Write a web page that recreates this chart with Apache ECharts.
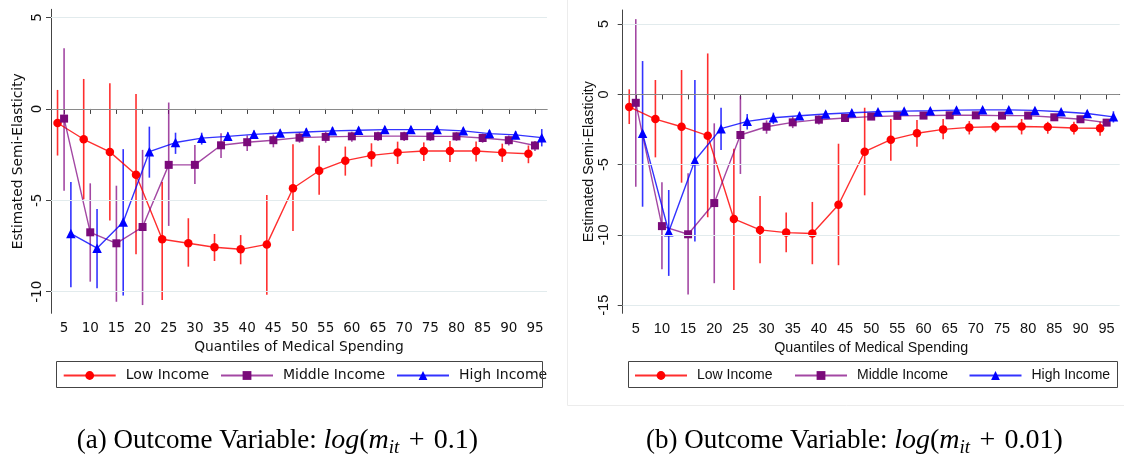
<!DOCTYPE html>
<html>
<head>
<meta charset="utf-8">
<script src="https://cdn.jsdelivr.net/npm/echarts@6/dist/echarts.min.js"></script>
<style>
html,body{margin:0;padding:0;background:#fff;}
#c{width:1124px;height:454px;}
</style>
</head>
<body>
<div id="c"></div>
<script>
// ---------- DATA ----------
const quantiles = [5,10,15,20,25,30,35,40,45,50,55,60,65,70,75,80,85,90,95];
const yTicksA = [-10,-5,0,5];
const yTicksB = [-15,-10,-5,0,5];
const seriesNames = ['Low Income','Middle Income','High Income'];
const captionA = ['(a) Outcome Variable: ', 'log', '(', 'm', 'it', '\u200a + \u200a0.1)'];
const captionB = ['(b) Outcome Variable: ', 'log', '(', 'm', 'it', '\u200a + \u200a0.01)'];
const xTitle = 'Quantiles of Medical Spending';
const yTitle = 'Estimated Semi-Elasticity';

// Panel (a): log(m + 0.1)
const lowA    = [-0.77,-1.66,-2.35,-3.60,-7.13,-7.35,-7.57,-7.68,-7.41,-4.34,-3.38,-2.83,-2.54,-2.39,-2.30,-2.30,-2.30,-2.39,-2.45];
const lowA_lo = [-2.55,-4.94,-6.11,-7.95,-10.45,-8.63,-8.32,-8.50,-10.16,-6.68,-4.69,-3.65,-3.16,-3.01,-2.85,-2.90,-2.87,-2.90,-2.97];
const lowA_hi = [1.04,1.64,1.40,0.82,-4.00,-5.98,-6.84,-6.90,-4.71,-1.93,-2.00,-2.06,-1.88,-1.79,-1.83,-1.75,-1.78,-1.90,-2.00];
const midA    = [-0.53,-6.75,-7.35,-6.46,-3.06,-3.06,-1.99,-1.82,-1.71,-1.57,-1.53,-1.50,-1.49,-1.49,-1.50,-1.50,-1.59,-1.71,-2.00];
const midA_lo = [-4.47,-9.45,-10.55,-10.73,-6.40,-4.10,-2.68,-2.30,-2.10,-1.85,-1.85,-1.80,-1.75,-1.75,-1.75,-1.75,-1.85,-2.00,-2.30];
const midA_hi = [3.32,-4.07,-4.20,-2.24,0.35,-1.98,-1.33,-1.45,-1.40,-1.30,-1.25,-1.25,-1.25,-1.25,-1.27,-1.27,-1.35,-1.45,-1.75];
const highA    = [-6.82,-7.62,-6.18,-2.34,-1.84,-1.60,-1.50,-1.39,-1.32,-1.26,-1.20,-1.17,-1.13,-1.13,-1.13,-1.20,-1.35,-1.42,-1.57];
const highA_lo = [-9.75,-9.81,-10.21,-3.76,-2.46,-1.95,-1.75,-1.62,-1.55,-1.48,-1.42,-1.38,-1.33,-1.33,-1.33,-1.40,-1.55,-1.65,-2.05];
const highA_hi = [-4.00,-5.47,-2.20,-0.97,-1.30,-1.30,-1.28,-1.18,-1.12,-1.06,-1.00,-0.98,-0.95,-0.95,-0.95,-1.02,-1.15,-1.22,-1.10];

// Panel (b): log(m + 0.01)
const lowB    = [-0.89,-1.76,-2.30,-2.94,-8.86,-9.64,-9.83,-9.90,-7.85,-4.08,-3.22,-2.77,-2.49,-2.35,-2.30,-2.28,-2.32,-2.39,-2.41];
const lowB_lo = [-2.11,-4.48,-6.28,-8.74,-13.91,-12.01,-11.23,-12.08,-12.15,-7.18,-4.72,-3.72,-3.20,-2.85,-2.70,-2.85,-2.80,-2.85,-2.95];
const lowB_hi = [0.36,1.02,1.73,2.91,-3.86,-7.23,-8.41,-7.65,-3.51,-0.95,-1.76,-1.83,-1.76,-1.90,-1.95,-1.75,-1.95,-1.95,-1.95];
const midB    = [-0.60,-9.37,-9.95,-7.73,-2.89,-2.30,-1.99,-1.80,-1.68,-1.58,-1.53,-1.51,-1.49,-1.49,-1.51,-1.51,-1.63,-1.77,-2.01];
const midB_lo = [-6.57,-12.44,-14.24,-13.43,-5.66,-2.80,-2.40,-2.15,-1.95,-1.80,-1.75,-1.72,-1.70,-1.70,-1.72,-1.72,-1.85,-2.00,-2.25];
const midB_hi = [5.35,-6.25,-5.61,-2.06,-0.12,-1.85,-1.60,-1.50,-1.45,-1.38,-1.33,-1.32,-1.30,-1.30,-1.32,-1.32,-1.42,-1.55,-1.78];
const highB    = [-2.77,-9.77,-4.70,-2.44,-1.92,-1.66,-1.52,-1.40,-1.31,-1.24,-1.19,-1.17,-1.12,-1.10,-1.10,-1.14,-1.24,-1.36,-1.60];
const highB_lo = [-7.99,-12.91,-10.47,-3.96,-2.50,-2.10,-1.80,-1.65,-1.55,-1.45,-1.40,-1.38,-1.33,-1.30,-1.30,-1.35,-1.45,-1.58,-2.00];
const highB_hi = [2.37,-6.80,1.02,-0.95,-1.40,-1.30,-1.28,-1.18,-1.10,-1.04,-1.00,-0.98,-0.93,-0.90,-0.90,-0.95,-1.05,-1.15,-1.20];

// ---------- STYLE / LAYOUT ----------
const dodge = [-1.25, 0, 1.3];
const lineColors = ['rgba(255,0,0,0.82)', 'rgba(128,0,128,0.72)', 'rgba(0,0,255,0.8)'];
const markColors = ['#ff0000', '#7a0a7a', '#0000ff'];
const symbols = ['circle', 'rect', 'triangle'];
const symSizes = [8.5, 8, 9.5];

const panels = [
  {font:'DejaVu Sans', gridLeft:51, gridTop:9.3, gridW:496, gridH:304, xMax:97.3, yMin:-11.18, yMax:5.45,
   yTicks:yTicksA, tickFont:13.5, titleFont:13.8, yNameGap:26, xNameGap:16.5, yLabelMargin:7,
   data:[[lowA,lowA_lo,lowA_hi],[midA,midA_lo,midA_hi],[highA,highA_lo,highA_hi]],
   legendBox:[56,361,486,26], legendX:[62.7,220,396], legendFont:14,
   caption:captionA, capX:277.5},
  {font:'Liberation Sans', gridLeft:622.7, gridTop:10, gridW:497, gridH:303.3, xMax:97.5, yMin:-15.57, yMax:6.0,
   yTicks:yTicksB, tickFont:14.5, titleFont:14.3, yNameGap:25, xNameGap:18.5, yLabelMargin:11,
   data:[[lowB,lowB_lo,lowB_hi],[midB,midB_lo,midB_hi],[highB,highB_lo,highB_hi]],
   legendBox:[628,361,489,26], legendX:[634,794,968.5], legendFont:14,
   caption:captionB, capX:854.5}
];

const grid = [], xAxis = [], yAxis = [], series = [], legend = [], graphic = [];

// faint frame around panel (b)
graphic.push({type:'rect', shape:{x:567.5, y:-2, width:560, height:407.5}, style:{fill:'none', stroke:'#ececec', lineWidth:1}, z:-1});

panels.forEach((p, pi) => {
  grid.push({left:p.gridLeft, top:p.gridTop, width:p.gridW, height:p.gridH, containLabel:false});
  xAxis.push({
    type:'value', gridIndex:pi, min:2.5, max:p.xMax,
    name:xTitle, nameLocation:'middle', nameGap:p.xNameGap,
    nameTextStyle:{fontFamily:p.font, fontSize:p.titleFont, color:'#111'},
    axisLine:{show:true, lineStyle:{color:'#444', width:1}},
    axisTick:{show:true, length:5, lineStyle:{color:'#444'}, customValues:quantiles},
    axisLabel:{customValues:quantiles, margin:8, fontFamily:p.font, fontSize:p.tickFont, color:'#111'},
    splitLine:{show:false}
  });
  yAxis.push({
    type:'value', gridIndex:pi, min:p.yMin, max:p.yMax,
    name:yTitle, nameLocation:'middle', nameGap:p.yNameGap, nameRotate:90,
    nameTextStyle:{fontFamily:p.font, fontSize:p.titleFont, color:'#111'},
    axisLine:{show:true, lineStyle:{color:'#444', width:1}},
    axisTick:{show:true, length:5, lineStyle:{color:'#444'}, customValues:p.yTicks},
    axisLabel:{customValues:p.yTicks, rotate:90, margin:p.yLabelMargin, fontFamily:p.font, fontSize:p.tickFont, color:'#111'},
    splitLine:{show:false}
  });
  // reference lines
  series.push({
    type:'line', xAxisIndex:pi, yAxisIndex:pi, data:[], silent:true, z:1,
    markLine:{silent:true, symbol:['none','none'], label:{show:false}, animation:false,
      data: p.yTicks.map(v => ({yAxis:v, lineStyle:{color: v===0 ? '#8a8a8a' : '#e2ebed', width: v===0 ? 1.2 : 1, type:'solid'}}))}
  });
  p.data.forEach((d, si) => {
    const [est, lo, hi] = d;
    series.push({
      type:'custom', name:seriesNames[si] + ' CI', xAxisIndex:pi, yAxisIndex:pi, z:2, silent:true,
      data: quantiles.map((q, i) => [q + dodge[si], lo[i], hi[i]]),
      encode:{x:0, y:[1,2]},
      renderItem: (params, api) => {
        const a = api.coord([api.value(0), api.value(1)]);
        const b = api.coord([api.value(0), api.value(2)]);
        return {type:'line', shape:{x1:a[0], y1:a[1], x2:b[0], y2:b[1]}, style:{stroke:lineColors[si], lineWidth:1.6}};
      }
    });
  });
  p.data.forEach((d, si) => {
    const est = d[0];
    series.push({
      type:'line', name:seriesNames[si], xAxisIndex:pi, yAxisIndex:pi, z:3,
      data: quantiles.map((q, i) => [q + dodge[si], est[i]]),
      symbol:symbols[si], symbolSize:symSizes[si], showSymbol:true,
      lineStyle:{color:lineColors[si], width:1.4},
      itemStyle:{color:markColors[si]}
    });
  });
  // legend: box + items
  const [bx, by, bw, bh] = p.legendBox;
  graphic.push({type:'rect', shape:{x:bx+0.5, y:by+0.5, width:bw, height:bh}, style:{fill:'none', stroke:'#444', lineWidth:1}, z:5});
  seriesNames.forEach((nm, si) => {
    legend.push({
      data:[nm], left:p.legendX[si], top:by + bh/2 - 5.5, orient:'horizontal',
      itemWidth:52, itemHeight:11, padding:0, selectedMode:false,
      textStyle:{fontFamily:p.font, fontSize:p.legendFont, color:'#111', padding:[0,0,0,5]}
    });
  });
  // caption
  const c = p.caption;
  graphic.push({
    type:'text', x:p.capX, y:441, z:5,
    style:{
      text:'{n|' + c[0] + '}{i|' + c[1] + '}{m|' + c[2] + '}{i|' + c[3] + '}{s|' + c[4] + '}{m|' + c[5] + '}',
      align:'center', verticalAlign:'middle',
      rich:{
        n:{fontFamily:'Liberation Serif', fontSize:27, color:'#000'},
        m:{fontFamily:'Liberation Serif', fontSize:28, color:'#000'},
        i:{fontFamily:'Liberation Serif', fontSize:28, fontStyle:'italic', color:'#000'},
        s:{fontFamily:'Liberation Serif', fontSize:19, fontStyle:'italic', color:'#000', padding:[13,0,0,0]}
      }
    }
  });
});

const chart = echarts.init(document.getElementById('c'), null, {renderer:'canvas'});
chart.setOption({
  animation:false,
  backgroundColor:'#ffffff',
  grid, xAxis, yAxis, series, legend, graphic
});
</script>
</body>
</html>
